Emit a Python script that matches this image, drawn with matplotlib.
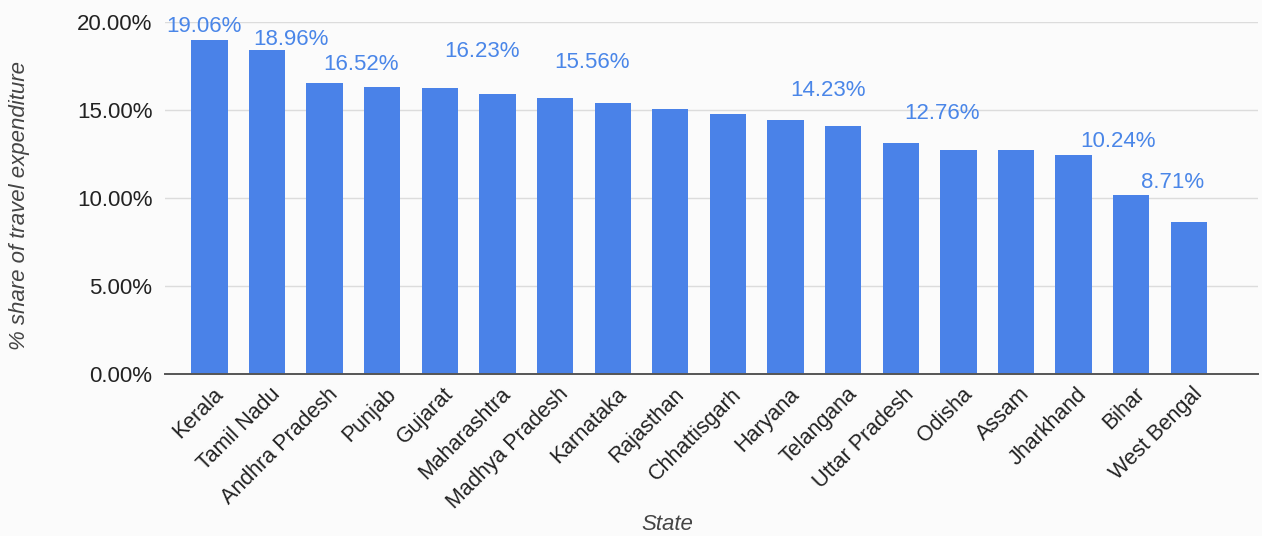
import matplotlib
matplotlib.use("Agg")
import matplotlib.pyplot as plt
from matplotlib.ticker import FuncFormatter
from matplotlib.transforms import ScaledTranslation

states = ["Kerala", "Tamil Nadu", "Andhra Pradesh", "Punjab", "Gujarat", "Maharashtra",
          "Madhya Pradesh", "Karnataka", "Rajasthan", "Chhattisgarh", "Haryana", "Telangana",
          "Uttar Pradesh", "Odisha", "Assam", "Jharkhand", "Bihar", "West Bengal"]
share = [18.98, 18.40, 16.52, 16.30, 16.25, 15.90, 15.66, 15.40, 15.08, 14.76, 14.43, 14.07,
         13.10, 12.73, 12.72, 12.42, 10.17, 8.64]

# data labels shown on the chart
label_bar = [0, 1, 2, 4, 6, 10, 12, 16, 17]
label_text = ["19.06%", "18.96%", "16.52%", "16.23%", "15.56%", "14.23%", "12.76%", "10.24%", "8.71%"]

y_ticks = [0, 5, 10, 15, 20]

# label placement (style)
label_dx = [-0.10, 0.41, 0.63, 0.74, 0.64, 0.73, 0.72, -0.23, -0.29]
label_y = [19.75, 19.0, 17.6, 18.3, 17.7, 16.1, 14.8, 13.2, 10.9]

BAR = "#4a82e8"
LBL = "#4a86e8"
BG = "#fbfbfb"

fig = plt.figure(figsize=(12.62, 5.36), dpi=100, facecolor=BG)
ax = fig.add_axes([165 / 1262, 162 / 536, 1093 / 1262, 352 / 536], facecolor=BG)

x = list(range(len(states)))
ax.bar(x, share, width=0.63, color=BAR, zorder=3)

ax.set_xlim(-0.77, 18.2)
ax.set_ylim(0, 20)
ax.set_yticks(y_ticks)
ax.yaxis.set_major_formatter(FuncFormatter(lambda v, p: f"{v:.2f}%"))
ax.grid(axis="y", color="#dcdcdc", linewidth=1, zorder=0)
for s in ["top", "right", "left"]:
    ax.spines[s].set_visible(False)
ax.spines["bottom"].set_color("#555555")
ax.spines["bottom"].set_linewidth(1.4)
ax.spines["bottom"].set_zorder(4)
ax.tick_params(axis="y", length=0, labelsize=16, colors="#222222", pad=9)
ax.tick_params(axis="x", length=0, labelsize=15.5, colors="#222222", pad=7)
ax.set_xticks(x)
ax.set_xticklabels(states, rotation=45, ha="right", rotation_mode="anchor",
                   fontfamily="Liberation Sans")
for t in ax.get_yticklabels():
    t.set_fontfamily("Liberation Sans")

off = ScaledTranslation(3 / 100, 0, fig.dpi_scale_trans)
for t in ax.get_xticklabels():
    t.set_transform(t.get_transform() + off)

for b, t, dx, yy in zip(label_bar, label_text, label_dx, label_y):
    ax.text(b + dx, yy, t, ha="center", va="center", color=LBL, fontsize=16,
            fontfamily="Liberation Sans", clip_on=False, zorder=5)

fig.text(20 / 1262, 1 - 205 / 536, "% share of travel expenditure", rotation=90,
         ha="center", va="center", fontsize=16, style="italic", color="#444444",
         fontfamily="Liberation Sans")
fig.text(667 / 1262, 1 - 524 / 536, "State", ha="center", va="center", fontsize=16,
         style="italic", color="#444444", fontfamily="Liberation Sans")

fig.savefig("out.png", dpi=100, facecolor=BG)
